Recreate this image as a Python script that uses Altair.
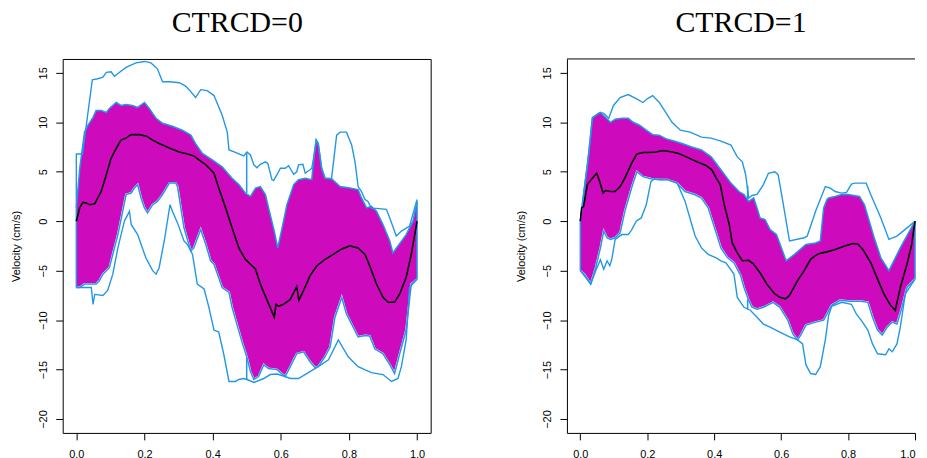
import altair as alt
import pandas as pd

# ---------------- data ----------------
# Panel CTRCD=0
p1_up_x = [0, 0.010, 0.024, 0.034, 0.049, 0.058, 0.073, 0.088, 0.097, 0.117, 0.131, 0.146, 0.165, 0.180, 0.200, 0.214, 0.234, 0.253, 0.282, 0.311, 0.336, 0.350, 0.370, 0.399, 0.428, 0.457, 0.477, 0.496, 0.511, 0.526, 0.540, 0.555, 0.569, 0.581, 0.591, 0.604, 0.618, 0.638, 0.652, 0.672, 0.691, 0.698, 0.704, 0.710, 0.720, 0.730, 0.749, 0.774, 0.803, 0.827, 0.837, 0.852, 0.866, 0.881, 0.900, 0.920, 0.929, 0.944, 0.968, 0.988, 1.0]
p1_up_y = [1.35, 5.35, 9.0, 9.7, 10.5, 11.2, 11.2, 11.0, 11.4, 12.0, 11.7, 11.8, 11.7, 11.5, 12.0, 11.4, 10.4, 9.9, 9.6, 9.2, 8.7, 7.85, 6.85, 6.2, 5.5, 4.35, 3.7, 2.85, 2.5, 3.35, 3.5, 2.7, 0.67, -1.0, -2.7, -0.67, 1.67, 3.7, 4.2, 4.35, 4.2, 6.7, 8.2, 7.85, 5.35, 4.35, 4.3, 3.5, 3.35, 3.2, 2.35, 1.35, 1.5, 1.0, -0.33, -2.0, -3.2, -2.5, -1.35, 0, 2.0]

p1_lo_x = [0, 0.010, 0.024, 0.044, 0.058, 0.068, 0.078, 0.097, 0.107, 0.122, 0.136, 0.146, 0.161, 0.170, 0.180, 0.190, 0.200, 0.209, 0.224, 0.238, 0.253, 0.273, 0.292, 0.297, 0.316, 0.336, 0.345, 0.365, 0.380, 0.394, 0.404, 0.428, 0.448, 0.457, 0.472, 0.487, 0.501, 0.511, 0.521, 0.535, 0.550, 0.564, 0.589, 0.613, 0.628, 0.638, 0.647, 0.667, 0.686, 0.701, 0.710, 0.730, 0.745, 0.759, 0.779, 0.793, 0.808, 0.827, 0.847, 0.861, 0.876, 0.900, 0.920, 0.934, 0.949, 0.968, 0.983, 1.0]
p1_lo_y = [-6.7, -6.7, -6.35, -6.35, -6.35, -6.0, -5.35, -4.7, -3.35, -1.35, 1.0, 2.7, 2.85, 3.35, 3.7, 2.35, 1.35, 0.84, 1.67, 2.0, 2.7, 3.85, 3.85, 3.5, -0.67, -3.0, -2.7, -0.84, -2.35, -4.0, -4.35, -6.7, -7.2, -8.7, -10.5, -12.3, -13.8, -15.2, -16.0, -15.7, -14.5, -14.9, -15.0, -15.7, -14.7, -14.0, -13.4, -13.2, -14.2, -14.8, -14.7, -13.7, -12.7, -9.7, -7.7, -9.4, -10.4, -11.7, -11.55, -11.6, -12.9, -13.4, -14.5, -15.4, -13.4, -11.0, -6.35, -5.85]

p1_ou_x = [0, 0, 0.018, 0.047, 0.063, 0.078, 0.088, 0.102, 0.112, 0.127, 0.146, 0.175, 0.200, 0.219, 0.238, 0.253, 0.273, 0.302, 0.321, 0.336, 0.350, 0.365, 0.384, 0.404, 0.428, 0.443, 0.448, 0.467, 0.491, 0.501, 0.511, 0.521, 0.530, 0.540, 0.555, 0.562, 0.574, 0.579, 0.589, 0.599, 0.613, 0.623, 0.630, 0.638, 0.647, 0.652, 0.665, 0.672, 0.677, 0.686, 0.691, 0.698, 0.704, 0.710, 0.720, 0.730, 0.749, 0.764, 0.774, 0.793, 0.808, 0.818, 0.827, 0.837, 0.847, 0.856, 0.866, 0.881, 0.910, 0.920, 0.939, 0.954, 0.978, 1.0]
p1_ou_y = [1.35, 6.8, 6.8, 14.3, 14.4, 14.55, 15.05, 15.1, 14.65, 15.05, 15.55, 16.0, 16.15, 16.0, 15.4, 14.1, 14.1, 14.0, 13.65, 13.1, 12.5, 13.3, 13.2, 12.7, 10.7, 9.0, 7.2, 6.95, 6.6, 7.0, 6.7, 5.7, 5.4, 5.75, 6.0, 5.85, 4.2, 4.1, 4.7, 5.35, 5.35, 5.6, 5.2, 4.75, 5.0, 5.7, 5.75, 4.85, 5.0, 5.2, 5.35, 6.7, 8.2, 7.85, 5.35, 4.35, 4.3, 8.7, 9.0, 9.0, 7.7, 6.0, 3.5, 3.0, 2.2, 2.0, 1.3, 1.3, 1.2, 0.33, -1.5, -1.0, -0.5, 2.2]

p1_ol_x = [0, 0.044, 0.049, 0.054, 0.078, 0.092, 0.107, 0.122, 0.141, 0.146, 0.156, 0.161, 0.180, 0.204, 0.224, 0.234, 0.243, 0.258, 0.275, 0.282, 0.297, 0.316, 0.326, 0.341, 0.355, 0.375, 0.389, 0.404, 0.418, 0.433, 0.448, 0.467, 0.477, 0.491, 0.501, 0.521, 0.550, 0.569, 0.589, 0.608, 0.628, 0.652, 0.681, 0.710, 0.740, 0.769, 0.798, 0.827, 0.866, 0.900, 0.925, 0.944, 0.954, 0.968, 0.978, 1.0]
p1_ol_y = [-6.7, -6.7, -8.4, -7.4, -7.5, -7.0, -5.35, -2.7, 0.0, 0.33, 1.0, -0.33, -1.35, -3.7, -5.0, -5.35, -4.7, -2.0, 1.67, 1.0, -0.17, -2.0, -2.35, -3.35, -6.35, -6.85, -8.7, -11.0, -11.2, -13.5, -16.2, -16.2, -16.0, -15.9, -16.0, -16.3, -15.9, -15.5, -15.45, -15.65, -15.9, -15.9, -15.3, -14.7, -14.0, -12.0, -13.7, -14.7, -15.3, -15.5, -16.2, -15.9, -14.7, -12.0, -6.7, -5.85]

p1_md_x = [0, 0.010, 0.019, 0.029, 0.039, 0.054, 0.063, 0.073, 0.088, 0.102, 0.117, 0.131, 0.146, 0.161, 0.185, 0.206, 0.224, 0.243, 0.273, 0.302, 0.321, 0.345, 0.360, 0.380, 0.404, 0.418, 0.438, 0.457, 0.477, 0.496, 0.511, 0.526, 0.540, 0.560, 0.581, 0.586, 0.594, 0.608, 0.628, 0.647, 0.653, 0.667, 0.686, 0.706, 0.730, 0.754, 0.779, 0.803, 0.827, 0.847, 0.861, 0.881, 0.900, 0.915, 0.934, 0.949, 0.968, 0.983, 1.0]
p1_md_y = [0, 1.35, 1.9, 1.85, 1.67, 1.75, 2.35, 3.0, 4.7, 6.35, 7.35, 8.2, 8.4, 8.75, 8.75, 8.6, 8.2, 7.85, 7.4, 7.0, 6.85, 6.6, 6.2, 5.7, 4.85, 3.35, 1.35, -0.67, -2.7, -3.85, -4.35, -4.85, -6.35, -8.0, -9.7, -8.4, -8.6, -8.4, -7.9, -6.6, -8.0, -7.0, -5.5, -4.5, -3.85, -3.35, -2.8, -2.5, -2.7, -3.35, -4.5, -6.35, -7.7, -8.2, -8.2, -7.35, -5.7, -3.35, 0]

# vertical segments: whiskers at the middle of the range and band end edges
p1_seg_x = [0.5, 0.5, 0, 1.0]
p1_seg_y = [2.85, -13.8, -6.7, -5.85]
p1_seg_y2 = [7.0, -16.0, 1.35, 2.0]

# Panel CTRCD=1
p2_up_x = [0, 0.012, 0.026, 0.036, 0.046, 0.060, 0.075, 0.090, 0.104, 0.124, 0.143, 0.158, 0.177, 0.197, 0.216, 0.236, 0.255, 0.279, 0.304, 0.333, 0.362, 0.391, 0.420, 0.450, 0.474, 0.489, 0.503, 0.518, 0.528, 0.537, 0.552, 0.567, 0.586, 0.601, 0.615, 0.640, 0.674, 0.703, 0.717, 0.727, 0.737, 0.742, 0.761, 0.781, 0.800, 0.834, 0.849, 0.878, 0.898, 0.922, 0.956, 1.0]
p2_up_y = [0, 3.35, 7.0, 10.4, 10.7, 11.0, 10.5, 10.0, 10.3, 10.4, 10.4, 10.0, 9.7, 9.2, 8.75, 8.7, 8.35, 8.1, 7.85, 7.5, 7.2, 6.5, 5.2, 3.85, 3.0, 2.7, 2.0, 2.35, 1.35, 0.33, 0.17, -0.84, -1.35, -2.7, -4.0, -3.35, -2.35, -2.2, -2.0, 1.35, 2.2, 2.35, 2.5, 2.7, 2.7, 2.5, 1.67, -1.67, -3.7, -5.0, -2.7, 0]

p2_lo_x = [0, 0.012, 0.031, 0.046, 0.060, 0.070, 0.080, 0.090, 0.104, 0.119, 0.133, 0.153, 0.169, 0.187, 0.211, 0.236, 0.260, 0.289, 0.313, 0.343, 0.362, 0.382, 0.401, 0.420, 0.440, 0.459, 0.479, 0.489, 0.503, 0.513, 0.528, 0.547, 0.576, 0.596, 0.620, 0.635, 0.649, 0.659, 0.674, 0.703, 0.727, 0.751, 0.776, 0.805, 0.839, 0.859, 0.873, 0.888, 0.902, 0.917, 0.932, 0.946, 0.961, 0.976, 1.0]
p2_lo_y = [-5.0, -5.35, -6.35, -4.7, -2.7, -1.0, -1.67, -1.84, -1.67, -1.17, 1.0, 3.35, 5.0, 4.5, 4.3, 4.2, 4.2, 3.85, 3.0, 2.67, 2.35, 1.35, -0.67, -2.7, -3.7, -4.2, -5.5, -6.7, -8.0, -8.7, -8.9, -8.7, -8.2, -8.7, -10.0, -11.4, -12.0, -11.5, -10.5, -10.2, -10.0, -8.5, -8.0, -8.1, -8.1, -8.2, -9.7, -11.0, -11.5, -10.7, -10.2, -10.4, -8.7, -6.7, -5.85]

p2_ou_x = [0, 0.007, 0.021, 0.036, 0.046, 0.058, 0.070, 0.085, 0.099, 0.119, 0.143, 0.167, 0.187, 0.201, 0.216, 0.236, 0.255, 0.274, 0.299, 0.328, 0.362, 0.391, 0.420, 0.450, 0.469, 0.484, 0.494, 0.503, 0.513, 0.528, 0.547, 0.562, 0.581, 0.591, 0.605, 0.625, 0.669, 0.678, 0.703, 0.732, 0.747, 0.761, 0.781, 0.795, 0.810, 0.820, 0.854, 0.868, 0.898, 0.922, 0.946, 0.976, 1.0]
p2_ou_y = [0, 2.0, 5.7, 10.5, 10.7, 11.0, 10.9, 10.4, 11.7, 12.5, 12.8, 12.4, 12.0, 12.4, 12.7, 12.0, 11.0, 10.0, 9.2, 9.0, 8.5, 8.4, 8.1, 7.7, 6.5, 6.0, 4.7, 2.35, 2.6, 2.7, 3.7, 4.85, 5.0, 4.7, 2.0, -2.0, -1.67, -1.5, 1.0, 3.5, 3.35, 3.0, 2.84, 2.9, 3.75, 3.85, 3.85, 2.67, 0.33, -1.84, -1.5, -0.67, 0]

p2_ol_x = [0, 0.031, 0.046, 0.055, 0.060, 0.070, 0.080, 0.088, 0.094, 0.104, 0.124, 0.143, 0.153, 0.167, 0.182, 0.197, 0.211, 0.221, 0.236, 0.260, 0.289, 0.294, 0.313, 0.333, 0.343, 0.362, 0.382, 0.406, 0.420, 0.435, 0.459, 0.469, 0.489, 0.508, 0.528, 0.547, 0.567, 0.596, 0.625, 0.649, 0.664, 0.674, 0.688, 0.703, 0.717, 0.732, 0.742, 0.751, 0.781, 0.810, 0.825, 0.839, 0.859, 0.873, 0.888, 0.912, 0.922, 0.932, 0.946, 0.956, 0.971, 1.0]
p2_ol_y = [-5.0, -6.35, -5.0, -4.3, -3.9, -4.85, -4.0, -4.5, -3.85, -1.84, -1.35, -1.35, -0.9, 0.0, 0.33, 1.67, 4.0, 4.3, 4.2, 4.2, 3.85, 3.5, 2.0, -0.33, -1.5, -2.7, -3.35, -3.7, -4.0, -4.2, -5.35, -7.7, -8.7, -9.0, -9.7, -10.4, -10.7, -11.2, -11.7, -12.0, -12.4, -14.5, -15.4, -15.5, -14.7, -12.0, -9.5, -8.6, -8.2, -8.4, -9.4, -10.0, -11.0, -12.4, -13.4, -13.5, -12.9, -13.2, -12.4, -10.7, -7.35, -5.85]

p2_md_x = [0, 0.004, 0.010, 0.021, 0.036, 0.049, 0.058, 0.068, 0.075, 0.090, 0.104, 0.119, 0.133, 0.153, 0.169, 0.187, 0.206, 0.226, 0.247, 0.274, 0.294, 0.323, 0.352, 0.377, 0.393, 0.406, 0.418, 0.430, 0.445, 0.454, 0.469, 0.484, 0.503, 0.518, 0.537, 0.557, 0.581, 0.596, 0.613, 0.625, 0.649, 0.669, 0.688, 0.708, 0.722, 0.737, 0.761, 0.790, 0.815, 0.829, 0.844, 0.868, 0.888, 0.907, 0.927, 0.941, 0.956, 0.976, 0.990, 1.0]
p2_md_y = [0, 1.35, 1.5, 3.7, 4.35, 4.85, 4.0, 2.84, 3.1, 3.0, 3.0, 3.5, 4.35, 5.85, 6.8, 6.95, 6.95, 7.0, 7.15, 7.0, 6.85, 6.4, 5.95, 5.6, 5.2, 4.35, 3.7, 1.67, -0.33, -2.2, -3.2, -4.0, -3.95, -4.35, -5.2, -6.35, -7.35, -7.7, -7.85, -7.5, -6.0, -5.0, -3.85, -3.35, -3.2, -3.1, -2.85, -2.5, -2.25, -2.3, -2.85, -4.2, -5.85, -7.35, -8.5, -9.0, -6.7, -4.35, -2.35, 0]

p2_seg_x = [0.5, 0.5, 0, 1.0]
p2_seg_y = [2.2, -7.9, -5.0, -5.85]
p2_seg_y2 = [3.6, -8.9, 0, 0]

x_ticks = [0, 0.2, 0.4, 0.6, 0.8, 1.0]
y_ticks = [-20, -15, -10, -5, 0, 5, 10, 15]
titles = ["CTRCD=0", "CTRCD=1"]
y_label = "Velocity (cm/s)"

# ---------------- styling ----------------
BLUE = "#2297E6"
MAG = "#CD0BBC"
Y_DOM = [-21.4, 16.4]
YS = alt.Scale(domain=Y_DOM, nice=False, zero=False)


def seq(xs, ys):
    return pd.DataFrame({"x": xs, "y": ys, "i": list(range(len(xs)))})


def panel(title, up, lo, ou, ol, md, seg, x_dom, width, open_right, tdx):
    XS = alt.Scale(domain=x_dom, nice=False, zero=False)
    x_axis = alt.Axis(values=x_ticks, format=".1f", title=None, labelPadding=9,
                      tickSize=7, labelFlush=open_right, domain=open_right,
                      domainColor="black", domainWidth=1)
    y_axis = alt.Axis(values=y_ticks, format="d", title=y_label, labelAngle=-90,
                      labelAlign="center", labelBaseline="bottom",
                      labelPadding=7.5, titlePadding=15.5, tickSize=7,
                      domain=open_right, domainColor="black", domainWidth=1)
    X = alt.X("x:Q", scale=XS, axis=x_axis)
    Y = alt.Y("y:Q", scale=YS, axis=y_axis)
    fill = alt.Chart(seq(*up)).mark_area(color=MAG, opacity=1).encode(
        x=X, y=Y, y2=alt.datum(-21.0))
    mask = alt.Chart(seq(*lo)).mark_area(
        color="white", opacity=1, stroke="white", strokeWidth=2).encode(
        x=X, y=Y, y2=alt.datum(-21.0))

    def line(d, color, w):
        return alt.Chart(seq(*d)).mark_line(color=color, strokeWidth=w).encode(
            x=X, y=Y, order="i:Q")

    segs = pd.DataFrame({"x": seg[0], "y": seg[1], "y2": seg[2]})
    rules = alt.Chart(segs).mark_rule(color=BLUE, strokeWidth=1.5).encode(
        x=X, y=Y, y2="y2:Q")
    layers = [fill, mask,
              line(up, BLUE, 1.5), line(lo, BLUE, 1.5),
              line(ou, BLUE, 1.4), line(ol, BLUE, 1.4),
              rules, line(md, "black", 1.6)]
    tparams = alt.TitleParams(title, font="Liberation Serif", fontSize=30,
                              fontWeight="normal", color="black",
                              anchor="middle", baseline="bottom",
                              offset=-9, dx=tdx)
    if open_right:
        top = alt.Chart(pd.DataFrame({"x": [x_dom[0]], "x2": [x_dom[1]],
                                      "y": [Y_DOM[1]]})).mark_rule(
            color="black", strokeWidth=1).encode(x=X, x2="x2:Q", y=Y)
        layers.append(top)
        return alt.layer(*layers).properties(width=width, height=376,
                                              title=tparams)
    return alt.layer(*layers).properties(
        width=width, height=376, title=tparams,
        view=alt.ViewBackground(stroke="black", strokeWidth=1))


p1 = panel(titles[0], (p1_up_x, p1_up_y), (p1_lo_x, p1_lo_y),
           (p1_ou_x, p1_ou_y), (p1_ol_x, p1_ol_y), (p1_md_x, p1_md_y),
           (p1_seg_x, p1_seg_y, p1_seg_y2), [-0.04, 1.04], 370, False, -9.5)
p2 = panel(titles[1], (p2_up_x, p2_up_y), (p2_lo_x, p2_lo_y),
           (p2_ou_x, p2_ou_y), (p2_ol_x, p2_ol_y), (p2_md_x, p2_md_y),
           (p2_seg_x, p2_seg_y, p2_seg_y2), [-0.04, 1.0], 350, True, 0)

chart = alt.hconcat(p1, p2, spacing=84).properties(
    padding={"left": 2, "top": -2, "right": 0, "bottom": 0},
    background="white",
).configure_view(strokeWidth=0).configure_axis(
    labelFont="Liberation Sans", labelFontSize=11, labelColor="black",
    titleFont="Liberation Sans", titleFontSize=11, titleFontWeight="normal",
    titleColor="black", tickColor="black", grid=False,
)

chart.save("out.html", embed_options={"renderer": "svg", "actions": False})
